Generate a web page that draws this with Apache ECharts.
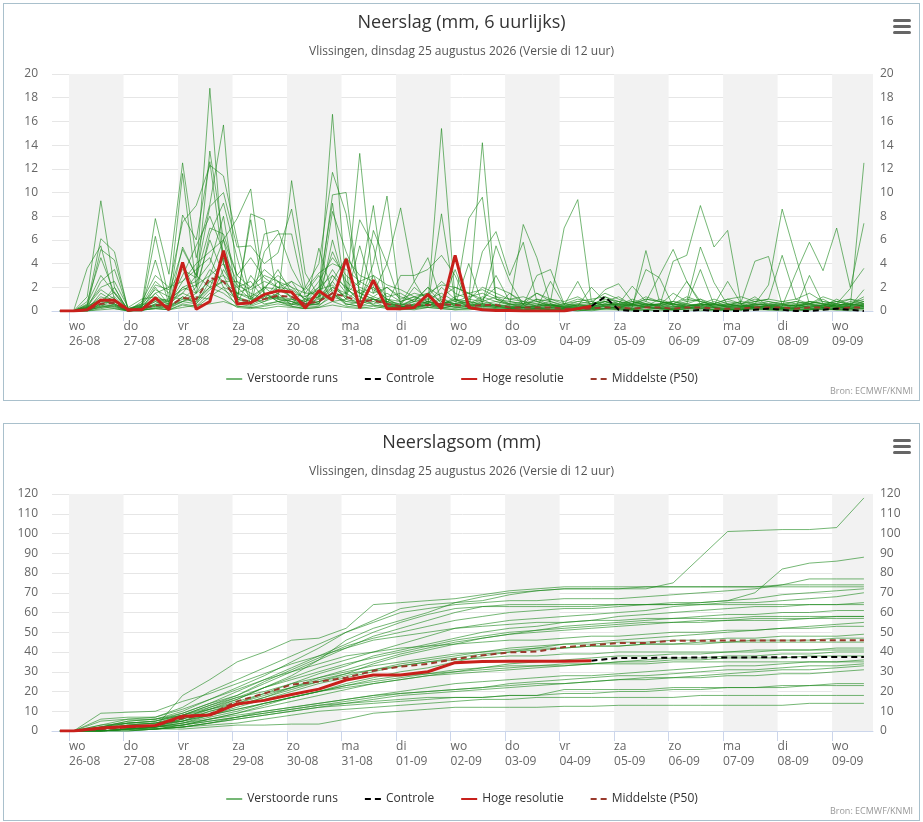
<!DOCTYPE html>
<html>
<head>
<meta charset="utf-8">
<title>Neerslag Vlissingen</title>
<script src="https://cdn.jsdelivr.net/npm/echarts@6/dist/echarts.min.js"></script>
<style>
  body { margin: 0; background: #fff; }
  .kader { position: absolute; left: 3px; width: 915px; height: 396px; border: 1px solid #a9c0cc; background: #fff; }
  #neerslag { top: 3px; }
  #som { top: 423px; }
</style>
</head>
<body>
<div id="neerslag" class="kader"></div>
<div id="som" class="kader"></div>
<script>
// neerslag per 6 uur, eerste waarde 25-08 20:00, daarna elke 6 uur t/m 09-09 14:00
var runs6 = [
  [0, 0,1.2,9.3,2.0, 0,0.2,1.5,0.4, 5.4,3.0,18.8,4.0, 1.2,0.6,2.0,1.1, 0.8,0.3,1.2,16.6, 2.0,0.8,1.0,0.5, 0.3,0.5,0.8,0.4, 1.0,0.3,0.2,0.1, 0.2,0.5,0.3,0.1, 0,0.2,0.3,0.4, 0.2,0.1,0.3,0.2, 0.1,0.2,0.5,0.3, 0.2,0.1,0.4,0.3, 0.2,0.5,0.3,0.1, 0.2,0.4,1.8],
  [0, 0,0.5,6.1,5.0, 0.1,0.5,7.8,3.1, 12.5,4.5,9.0,15.7, 2.0,1.0,0.8,1.5, 0.5,1.0,0.6,3.0, 1.5,13.3,2.0,0.6, 0.4,1.0,0.6,0.3, 0.2,0.5,1.0,0.4, 0.3,0.1,0.2,0.5, 0.2,0.1,0.3,0.6, 0.4,0.3,5.1,0.8, 0.5,0.6,1.0,0.3, 0.1,0.2,0.3,0.5, 0.3,0.2,0.8,0.6, 0.4,0.3,0.5],
  [0, 0,3.6,5.5,1.0, 0,0.3,6.3,1.0, 11.6,2.0,13.5,6.0, 7.8,10.3,1.5,0.8, 0.4,0.2,5.3,1.5, 0.6,0.4,0.8,0.3, 0.2,0.2,0.5,0.2, 0.5,0.8,14.2,1.0, 0.6,0.3,0.2,0.1, 0.1,0,0.2,0.4, 0.2,0.1,0.1,0.3, 0.6,0.3,0.2,0.1, 0.1,0.1,0.3,0.2, 0.1,0.1,0.2,0.3, 0.5,0.3,12.5],
  [0, 0,0.3,5.2,4.3, 0.2,0.4,4.3,0.6, 8.1,6.0,12.6,4.0, 0.8,8.2,7.7,1.0, 11.0,3.2,1.2,9.8, 10.0,1.2,0.5,0.4, 0.3,0.8,0.6,15.4, 1.0,0.5,0.6,0.4, 0.3,0.2,0.1,0.2, 0.1,0.1,0,0.2, 0.3,0.2,0.4,0.2, 0.1,0.2,0.3,0.1, 0.1,0.1,0.2,0.1, 0.2,0.1,0.1,0.2, 0.1,0.2,0.4],
  [0, 0,0.8,4.5,1.5, 0,0.8,3.0,2.0, 7.5,8.9,12.3,11.4, 6.0,1.0,6.5,6.8, 3.6,1.5,3.0,0.8, 1.0,0.6,6.8,4.0, 8.7,2.5,0.6,0.4, 3.5,0.5,0.4,0.3, 0.2,0.3,0.5,0.8, 7.0,9.4,0.8,0.5, 0.3,0.5,0.8,0.4, 4.2,4.7,8.9,5.4, 6.8,0.5,0.3,0.4, 0.3,0.2,0.5,0.3, 0.6,0.4,0.3],
  [0, 0,0.2,2.5,3.5, 0.2,0.6,2.5,1.5, 5.2,3.0,8.8,10.0, 5.4,5.5,4.0,4.9, 8.6,2.0,4.0,11.7, 8.2,1.5,1.0,0.8, 0.6,0.4,0.5,8.2, 0.8,7.8,9.6,1.0, 0.5,7.3,4.5,0.6, 0.3,0.5,0.4,1.2, 0.8,0.4,0.6,0.3, 0.2,0.4,0.6,0.3, 0.4,0.6,0.3,0.2, 0.3,0.2,0.4,0.5, 0.3,0.2,0.6],
  [0, 0,0.1,1.5,0.8, 0,0.1,2.0,0.5, 4.0,1.5,6.5,9.1, 4.5,0.5,5.0,6.5, 6.5,1.2,2.0,9.1, 1.2,7.7,5.5,0.6, 3.0,3.0,3.5,4.7, 3.0,0.4,5.0,6.7, 3.0,5.8,0.8,0.4, 0.3,0.2,0.6,1.8, 2.3,0.8,0.5,0.6, 0.8,0.6,0.4,0.8, 0.4,0.3,0.5,0.8, 0.6,0.4,0.3,0.5, 0.8,0.5,0.8],
  [0, 0,0.4,1.0,0.6, 0.1,0.3,1.0,0.8, 2.0,2.5,4.0,8.0, 1.2,0.8,1.8,3.5, 1.5,0.6,1.0,8.4, 5.0,2.2,8.9,0.5, 0.2,0.6,0.4,1.0, 0.6,0.3,0.6,5.5, 2.5,0.5,3.0,3.5, 0.6,0.4,2.0,0.8, 0.6,2.1,0.8,3.0, 5.2,2.5,0.8,0.4, 0.5,0.4,0.6,2.2, 8.6,4.6,0.6,0.3, 0.4,0.6,1.2],
  [0, 0,0,0.6,2.0, 0,0.2,0.8,0.3, 1.2,0.8,3.0,6.0, 1.0,7.7,1.2,1.0, 0.8,0.5,0.6,6.0, 2.0,0.8,4.0,9.7, 0.5,0.8,2.0,0.6, 0.5,4.0,0.6,0.4, 0.3,0.4,0.3,2.5, 0.5,2.5,0.3,0.5, 0.8,0.5,3.5,2.8, 0.4,0.6,3.5,0.5, 2.5,0.6,1.2,0.4, 0.4,3.2,5.8,3.4, 7.0,2.0,3.6],
  [0, 0,0.1,0.3,0.5, 0,0.1,0.4,0.2, 0.8,0.6,2.5,3.0, 0.6,0.4,0.8,1.2, 1.0,0.4,0.6,2.5, 1.0,5.5,1.5,4.0, 0.6,2.5,4.5,0.8, 0.6,0.4,0.8,3.0, 0.8,0.6,0.4,0.6, 0.4,0.3,0.5,0.8, 0.4,0.8,0.6,0.5, 1.5,0.8,5.4,2.4, 0.5,0.8,4.2,4.6, 0.5,0.4,0.6,0.8, 0.6,1.9,7.4],
  [0, 0,0,0.2,0.4, 0,0,0.3,0.1, 0.5,0.3,1.2,2.0, 0.4,0.3,0.5,0.8, 0.6,0.3,0.4,1.5, 0.5,0.8,0.6,1.0, 0.4,0.3,0.5,0.6, 0.3,0.2,0.4,0.5, 0.4,0.3,0.2,0.3, 0.2,0.3,0.2,0.4, 0.3,0.2,0.4,0.3, 0.2,0.3,0.4,0.2, 0.3,0.2,0.4,0.3, 0.2,0.3,0.2,0.4, 0.3,0.2,0.4],
  [0, 0,0.2,0.8,1.2, 0,0.2,0.5,0.6, 1.5,1.0,2.0,4.5, 1.0,0.6,1.2,2.0, 1.2,0.8,1.5,3.5, 1.8,1.2,0.8,1.5, 0.8,1.2,0.6,2.0, 1.0,0.6,1.2,0.8, 0.5,0.8,0.6,0.4, 0.6,0.8,1.0,1.2, 0.6,0.5,1.0,0.8, 0.6,1.2,0.8,0.5, 0.8,0.6,1.0,0.8, 0.5,0.8,0.6,1.0, 0.4,0.8,0.6],
  [0, 0,0.1,0.5,0.3, 0,0.1,0.2,0.1, 0.6,0.4,1.5,1.0, 0.3,0.2,0.4,0.6, 0.4,0.2,0.3,0.8, 0.4,0.3,0.2,0.4, 0.2,0.1,0.3,0.2, 0.1,0.2,0.1,0.2, 0.1,0.1,0.2,0.1, 0,0.1,0.1,0.2, 0.1,0,0.1,0.1, 0.1,0.2,0.1,0, 0.1,0.1,0.2,0.1, 0.1,0,0.1,0.2, 0.1,0.1,0.2],
  [0, 0,0.5,2.0,2.5, 0.3,1.0,1.2,0.8, 3.0,5.5,8.0,5.0, 2.5,1.8,2.5,2.0, 1.8,1.0,2.5,4.5, 3.0,2.0,1.5,2.0, 1.0,1.5,1.2,2.5, 1.5,1.0,2.0,1.5, 1.0,1.2,0.8,1.0, 0.6,1.0,0.8,1.5, 1.0,0.6,1.2,0.8, 0.5,0.8,1.0,0.6, 1.0,1.2,0.8,0.6, 0.8,1.0,1.5,0.8, 0.6,1.0,0.8],
  [0, 0,0,0.8,0.6, 0,0.4,1.5,2.0, 2.5,4.0,5.0,6.0, 3.0,2.0,3.0,2.5, 2.0,1.5,1.5,5.0, 2.5,1.5,2.0,1.0, 0.5,2.0,1.0,0.5, 1.2,1.5,0.8,1.2, 0.6,0.4,1.0,0.5, 0.4,0.6,0.3,0.8, 1.2,0.5,0.4,1.0, 0.6,0.4,0.6,1.0, 0.6,0.4,0.3,0.5, 0.6,0.8,0.5,0.4, 1.0,0.5,0.6],
  [0, 0,0.3,1.2,0.8, 0,0.3,0.8,0.4, 2.0,1.5,3.5,2.5, 1.5,1.0,2.0,1.8, 1.2,0.6,0.8,2.0, 1.2,0.6,1.0,0.8, 0.3,0.6,0.4,1.2, 0.4,0.6,0.5,0.4, 0.2,0.3,0.4,0.6, 0.3,0.4,0.2,0.5, 0.6,0.3,0.5,0.4, 0.3,0.5,0.4,0.3, 0.4,0.3,0.6,0.4, 0.3,0.5,0.4,0.3, 0.2,0.4,0.5],
  [0, 0,0.2,0.4,1.0, 0.1,0.6,1.8,1.2, 1.0,2.0,6.0,3.0, 2.0,2.5,1.0,1.5, 2.5,0.8,1.2,2.5, 4.5,3.0,2.5,1.2, 1.5,0.8,2.0,1.2, 2.0,1.5,1.0,2.0, 1.5,0.6,1.5,0.8, 0.4,0.8,0.6,0.8, 0.5,1.0,0.6,0.4, 0.8,2.5,0.6,0.4, 0.6,0.4,0.8,1.0, 4.7,1.0,0.6,1.2, 0.8,1.0,0.6],
  [0, 0,0,0.4,0.2, 0,0,0.6,0.3, 1.0,0.8,2.0,1.5, 0.6,3.0,1.5,0.8, 0.5,2.0,1.0,1.2, 0.8,1.0,3.0,0.6, 0.4,0.2,0.8,0.6, 0.8,0.5,0.4,0.3, 1.5,0.8,0.4,0.3, 0.2,0.4,0.3,0.2, 0.3,0.6,0.3,0.2, 0.4,0.3,0.2,0.6, 0.3,0.2,0.5,0.3, 0.2,0.3,3.0,0.6, 0.4,0.3,0.2],
  [0, 0,0.1,0.3,0.6, 0,0.2,0.6,0.4, 1.2,0.6,1.8,2.5, 0.8,0.5,1.0,1.2, 0.8,0.4,0.8,1.8, 0.6,0.4,0.5,0.3, 0.2,0.4,0.3,0.5, 0.3,0.2,0.3,0.2, 0.1,0.2,0.3,0.2, 0.1,0.2,0.1,0.3, 0.2,0.1,0.3,0.2, 0.1,0.2,0.3,0.1, 0.2,0.1,0.3,0.2, 0.1,0.2,0.1,0.3, 0.2,0.1,0.3],
  [0, 0,0.3,0.6,0.4, 0,0.1,0.2,0.5, 0.8,1.2,1.0,3.5, 1.5,1.2,0.6,0.8, 1.0,0.6,0.5,1.2, 1.5,0.8,1.2,0.8, 0.4,0.5,0.8,0.4, 0.6,0.8,0.5,0.6, 0.4,0.3,0.4,0.5, 0.3,0.2,0.4,0.6, 0.4,0.5,0.3,0.6, 0.4,0.3,0.5,0.6, 0.3,0.4,0.6,0.5, 0.4,0.6,0.3,0.5, 0.6,0.4,0.8],
  [0, 0,0.4,1.8,1.0, 0,0.3,1.0,0.6, 2.5,3.5,4.5,2.0, 1.5,2.0,3.5,2.5, 1.0,0.8,2.0,3.0, 2.0,1.5,1.0,0.6, 0.5,1.0,1.5,0.8, 0.6,1.0,0.8,0.5, 0.4,0.6,0.8,0.5, 0.3,0.5,0.4,0.6, 0.5,0.4,0.6,0.5, 0.3,0.4,0.5,0.6, 0.4,0.5,0.3,0.4, 0.5,0.4,0.6,0.5, 0.3,0.5,0.4],
  [0, 0,0.2,0.9,1.6, 0.2,0.5,0.9,1.0, 1.8,2.2,3.0,4.0, 2.2,1.5,1.0,2.5, 1.5,1.2,1.8,2.2, 1.0,1.8,1.2,2.0, 1.2,0.8,1.0,1.5, 0.8,1.2,1.5,1.0, 0.8,0.6,1.0,0.8, 0.5,0.6,0.8,0.4, 0.6,0.8,0.5,0.6, 0.8,0.5,0.6,0.4, 0.5,0.8,0.6,0.5, 0.6,0.4,0.8,0.6, 0.5,0.6,0.4],
  [0, 0,0,0.1,0.2, 0,0.1,0.2,0.1, 0.3,0.5,0.6,0.8, 0.4,0.3,0.2,0.4, 0.3,0.2,0.3,0.5, 0.3,0.2,0.4,0.2, 0.1,0.2,0.3,0.2, 0.1,0.1,0.2,0.1, 0.1,0.1,0.1,0.1, 0.1,0,0.1,0.1, 0.1,0.1,0.1,0, 0.1,0.1,0,0.1, 0.1,0.1,0.1,0.1, 0,0.1,0.1,0.1, 0.1,0,0.1],
  [0, 0,0.6,3.0,1.5, 0.1,0.4,2.2,1.8, 3.5,2.8,7.0,6.5, 3.0,4.5,2.8,2.0, 2.5,1.8,3.2,4.0, 3.5,2.5,3.0,2.2, 1.8,1.2,1.5,2.2, 2.0,1.5,1.8,1.2, 1.0,0.8,1.5,1.0, 0.8,1.2,0.6,1.0, 0.8,0.6,1.0,0.8, 0.6,1.0,0.8,0.6, 1.0,0.6,0.8,1.0, 0.8,0.6,0.8,0.6, 0.8,0.6,1.0],
  [0, 0,0.1,0.6,1.0, 0,0.2,0.4,0.3, 0.8,1.5,2.5,1.8, 1.0,0.8,1.5,1.0, 0.6,0.5,0.8,1.5, 0.8,0.6,1.0,0.6, 0.3,0.4,0.6,0.3, 0.4,0.3,0.5,0.3, 0.2,0.3,0.2,0.3, 0.2,0.3,0.2,0.2, 0.3,0.2,0.3,0.2, 0.2,0.3,0.2,0.3, 0.2,0.3,0.2,0.3, 0.2,0.3,0.2,0.2, 0.3,0.2,0.2],
  [0, 0,0.3,1.0,0.5, 0,0.2,0.5,0.9, 1.5,3.0,2.0,2.5, 2.5,1.2,2.0,3.0, 2.0,1.0,1.2,2.0, 1.5,2.5,1.8,1.0, 0.8,1.2,0.8,0.6, 1.0,0.8,0.6,0.8, 0.6,0.5,0.6,0.4, 0.4,0.5,0.6,0.8, 0.5,0.6,0.4,0.5, 0.6,0.4,0.6,0.5, 0.6,0.4,0.5,0.6, 0.4,0.5,0.6,0.4, 0.5,0.6,0.5]
];
var mediaan6 = [0, 0,0.1,0.6,0.7, 0,0.2,0.5,0.4, 1.1,1.0,2.8,2.5, 1.0,0.8,1.0,1.3, 1.2,0.6,0.8,1.5, 1.2,0.8,0.9,0.6, 0.4,0.5,0.5,0.6, 0.5,0.4,0.5,0.5, 0.3,0.3,0.3,0.3, 0.2,0.2,0.2,0.3, 0.3,0.2,0.3,0.3, 0.2,0.3,0.3,0.2, 0.2,0.2,0.3,0.3, 0.3,0.2,0.3,0.3, 0.2,0.3,0.3];
// hoge resolutie loopt tot 04-09 14:00
var hres6 = [0, 0,0.1,0.9,0.9, 0.1,0.1,1.1,0.1, 4.1,0.15,0.8,5.1, 0.6,0.7,1.4,1.7, 1.6,0.25,1.7,0.9, 4.4,0.25,2.6,0.2, 0.2,0.3,1.4,0.2, 4.7,0.3,0.1,0.05, 0.05,0,0,0, 0,0.2,0.4];
// controle vanaf 04-09 14:00 (index 39)
var controle6 = [0.4,1.2,0.1,0,0, 0,0,0,0.1, 0,0,0,0.1, 0.2,0.1,0,0, 0.1,0.2,0.1,0];

// neerslagsom, eerste waarde 25-08 20:00, daarna 02:00 en 14:00 van elke dag t/m 09-09 14:00
var runsSom = [
  [0, 0,2, 5,6, 10,16, 22,28, 35,42, 50,56, 62,64, 65,66, 69,71, 72,72, 72,72, 75,88, 101,101.5, 102,102, 103,118],
  [0, 0,1, 4,5, 9,14, 18,24, 30,36, 42,48, 52,56, 60,63, 64,64, 64,64, 64,64, 64,65, 66,70, 82,85, 86,88],
  [0, 0,3, 6,7, 12,20, 26,32, 38,44, 50,55, 60,62, 64,65, 66,66, 67,67, 67,68, 69,70, 71,72, 74,77, 77,77],
  [0, 0,0, 1,2, 18,26, 35,40, 46,47, 52,64, 65,66, 67,69, 71,72, 73,73, 73,73, 73,73, 73,73, 74,74, 74,74],
  [0, 0,1, 3,4, 8,12, 16,22, 28,36, 46,52, 56,60, 65,68, 70,71, 72,72, 72,73, 73,73, 73,73, 73,73, 73,73],
  [0, 0,2, 4,5, 8,13, 18,25, 31,37, 43,47, 50,53, 56,58, 60,61, 62,62, 63,64, 65,65, 66,67, 69,70, 71,72],
  [0, 0,1, 2,3, 6,11, 16,22, 27,32, 36,40, 44,48, 52,54, 56,57, 58,59, 60,61, 63,64, 65,65, 66,67, 68,70],
  [0, 0,0, 1,2, 5,10, 14,19, 24,29, 33,38, 41,44, 47,50, 52,53, 55,56, 58,59, 60,61, 62,63, 63,64, 64,65],
  [0, 0,2, 5,6, 9,14, 20,26, 32,38, 44,50, 55,59, 62,63, 63,63, 63,63, 64,64, 64,64, 64,64, 64,64, 64,64],
  [0, 0,1, 3,4, 6,10, 13,17, 21,25, 29,34, 38,41, 44,47, 49,51, 53,54, 55,56, 57,58, 59,59, 60,60, 61,61],
  [0, 0,9, 9.5,10, 15,19, 24,29, 34,38, 42,46, 48,50, 52,53, 54,55, 55,56, 56,57, 57,57, 57,58, 58,58, 58,58],
  [0, 0,0, 1,2, 6,12, 17,22, 26,30, 34,37, 40,43, 46,48, 50,51, 52,53, 54,55, 55,56, 56,57, 57,57, 58,58],
  [0, 0,1, 2,3, 5,9, 13,17, 22,27, 31,35, 39,42, 45,47, 49,50, 51,52, 53,54, 55,55, 56,56, 56,57, 57,57],
  [0, 0,0, 0,1, 3,6, 9,13, 17,20, 24,27, 30,32, 35,38, 40,42, 44,45, 46,47, 48,49, 50,51, 52,53, 54,55],
  [0, 0,6, 7,7, 11,16, 21,26, 30,34, 38,40, 42,43, 44,45, 46,46, 47,48, 48,49, 50,50, 51,51, 52,52, 53,53],
  [0, 0,1, 3,4, 7,11, 15,19, 22,25, 28,31, 34,36, 38,40, 42,43, 44,44, 45,45, 46,46, 47,47, 48,48, 48,49],
  [0, 0,0, 1,2, 4,8, 12,16, 20,24, 27,30, 33,35, 37,39, 40,41, 42,43, 43,44, 44,45, 45,46, 46,46, 47,47],
  [0, 0,2, 4,5, 8,13, 17,20, 24,27, 30,33, 35,37, 39,40, 41,42, 42,43, 43,44, 44,44, 45,45, 45,45, 45,45],
  [0, 0,0, 1,1, 3,6, 9,12, 15,18, 21,24, 26,28, 30,32, 34,35, 36,37, 38,38, 39,39, 40,40, 41,41, 42,42],
  [0, 0,5, 6,6, 8,11, 14,18, 22,26, 29,31, 33,35, 36,37, 38,38, 39,39, 40,40, 40,40, 40,41, 41,41, 41,41],
  [0, 0,0, 1,2, 4,7, 10,14, 17,20, 22,24, 26,28, 29,30, 31,32, 33,34, 35,36, 37,37, 38,38, 39,39, 40,40],
  [0, 0,1, 2,3, 5,8, 11,14, 17,20, 23,26, 28,29, 30,31, 32,33, 33,34, 35,35, 36,36, 37,37, 37,38, 38,38],
  [0, 0,0, 1,1, 2,4, 7,10, 12,14, 16,18, 20,22, 24,25, 26,27, 28,28, 29,30, 31,32, 33,33, 34,35, 35,36],
  [0, 0,3, 4,4, 5,8, 11,14, 17,20, 23,25, 27,29, 31,32, 33,33, 34,34, 34,34, 35,35, 35,35, 35,35, 35,35],
  [0, 0,0, 1,2, 3,5, 7,9, 11,13, 15,17, 19,20, 21,22, 24,25, 26,27, 28,28, 29,30, 31,31, 32,33, 33,34],
  [0, 0,0, 0,1, 2,4, 6,8, 10,12, 14,16, 18,19, 20,21, 22,23, 24,25, 26,26, 27,28, 29,30, 31,31, 32,33],
  [0, 0,1, 2,2, 4,6, 8,10, 12,14, 16,18, 19,20, 21,22, 23,24, 24,25, 26,27, 27,27, 28,28, 29,29, 30,31],
  [0, 0,0, 1,1, 2,4, 6,8, 10,12, 13,14, 15,16, 17,17, 18,18, 19,19, 20,20, 21,21, 22,22, 23,23, 24,24],
  [0, 0,1, 2,2, 3,5, 7,9, 11,13, 14,15, 16,17, 17,17, 18,18, 21,21, 21,21, 22,22, 22,22, 22,23, 23,23],
  [0, 0,0, 1,1, 2,3, 4,6, 8,10, 11,12, 13,14, 15,16, 16,17, 17,17, 17,17, 17,18, 18,18, 18,18, 18,18],
  [0, 0,0, 0,1, 1,2, 3,3, 3.5,3.5, 6,9, 10,11, 12,12, 12,12, 12.5,12.5, 13,13, 13,13, 13,13, 13,14, 14,14]
];
var mediaanSom = [0, 0,1.0, 1.8,2.5, 6.5,8.5, 15.0,19.0, 23.5,25.0, 27.0,30.5, 32.6,34.0, 36.5,38.3, 39.8,40.2, 42.5,43.5, 44.5,44.6, 45.7,45.7, 45.8,45.8, 45.8,45.9, 46.0,46.0];
var hresSom = [0, 0,1.5, 2.3,2.8, 7.5,8.1, 13.7,15.5, 18.5,21.2, 25.8,28.4, 28.4,30.0, 34.6,35.2, 35.3,35.3, 35.3,35.6];
// controle vanaf 04-09 14:00 (index 20)
var controleSom = [35.6, 37.0,37.0, 37.1,37.2, 37.2,37.3, 37.3,37.4, 37.5,37.5];

var dagNamen = ['zo', 'ma', 'di', 'wo', 'do', 'vr', 'za'];
var grijzeDagen = ['2026-08-26', '2026-08-28', '2026-08-30', '2026-09-01', '2026-09-03', '2026-09-05', '2026-09-07', '2026-09-09'];
var ondertitel = 'Vlissingen, dinsdag 25 augustus 2026 (Versie di 12 uur)';

var UUR = 3600000;
var begin = new Date(2026, 7, 25, 20, 0).getTime();
var xMin = new Date(2026, 7, 25, 16, 30).getTime();
var xMax = new Date(2026, 8, 9, 18, 0).getTime();
var groen = 'rgba(25,135,25,0.6)';
var lettertype = '"Open Sans", "DejaVu Sans", sans-serif';

function datum(s) {
  var p = s.split('-');
  return new Date(+p[0], p[1] - 1, +p[2]).getTime();
}
function twee(n) { return (n < 10 ? '0' : '') + n; }

// tijd bij index: 6-uurlijks of 12-uurlijks (som)
function tijd6(i) { return begin + i * 6 * UUR; }
function tijdSom(j) { return j === 0 ? begin : begin + 6 * UUR + (j - 1) * 12 * UUR; }

function paren(waarden, tijdFn, vanaf) {
  return waarden.map(function (v, i) { return [tijdFn(i + vanaf), v]; });
}

function maakSeries(runs, mediaan, hres, controle, tijdFn, controleVanaf) {
  var series = [];
  runs.forEach(function (r, k) {
    var s = {
      name: 'Verstoorde runs', type: 'line', data: paren(r, tijdFn, 0),
      symbol: 'none', z: 2, silent: true,
      lineStyle: { width: 1, color: groen }, itemStyle: { color: groen }
    };
    if (k === 0) {
      // grijze banden voor de om-en-om dagen
      s.markArea = {
        silent: true, itemStyle: { color: '#f2f2f2' },
        data: grijzeDagen.map(function (d) {
          return [{ xAxis: datum(d) }, { xAxis: Math.min(datum(d) + 24 * UUR, xMax) }];
        })
      };
    }
    series.push(s);
  });
  series.push({
    name: 'Middelste (P50)', type: 'line', data: paren(mediaan, tijdFn, 0), symbol: 'none', z: 3,
    lineStyle: { width: 2, color: '#9a3a2c', type: [6, 4] }, itemStyle: { color: '#9a3a2c' }
  });
  series.push({
    name: 'Controle', type: 'line', data: paren(controle, tijdFn, controleVanaf), symbol: 'none', z: 4,
    lineStyle: { width: 2, color: '#000', type: [6, 4] }, itemStyle: { color: '#000' }
  });
  series.push({
    name: 'Hoge resolutie', type: 'line', data: paren(hres, tijdFn, 0), symbol: 'none', z: 5,
    lineStyle: { width: 3, color: '#c8201b' }, itemStyle: { color: '#c8201b' }
  });
  return series;
}

function opties(titel, yMax, yStap, series) {
  var yas = {
    type: 'value', min: 0, max: yMax, interval: yStap,
    axisLine: { show: false }, axisTick: { show: false },
    axisLabel: { color: '#666', fontSize: 12, fontFamily: lettertype }
  };
  return {
    animation: false,
    textStyle: { fontFamily: lettertype },
    title: [
      { text: titel, left: 'center', top: 5, textStyle: { fontSize: 18, fontWeight: 'normal', color: '#333', fontFamily: lettertype } },
      { text: ondertitel, left: 'center', top: 37, textStyle: { fontSize: 12, fontWeight: 'normal', color: '#555', fontFamily: lettertype } }
    ],
    legend: {
      top: 364, left: 'center', itemGap: 26, itemWidth: 16, itemHeight: 10,
      itemStyle: { opacity: 0 },
      textStyle: { fontSize: 12, color: '#333', fontFamily: lettertype },
      data: ['Verstoorde runs', 'Controle', 'Hoge resolutie', 'Middelste (P50)']
    },
    grid: { left: 48, right: 46, top: 70, bottom: 89 },
    xAxis: {
      type: 'time', min: xMin, max: xMax,
      minInterval: 24 * UUR, maxInterval: 24 * UUR,
      axisLine: { lineStyle: { color: '#ccd6eb' } },
      axisTick: { length: 10, lineStyle: { color: '#ccd6eb' } },
      splitLine: { show: false },
      axisLabel: {
        align: 'left', margin: 8, color: '#666', fontSize: 12, lineHeight: 15,
        fontFamily: lettertype, showMinLabel: false, showMaxLabel: false,
        formatter: function (v) {
          var d = new Date(v);
          return dagNamen[d.getDay()] + '\n' + twee(d.getDate()) + '-' + twee(d.getMonth() + 1);
        }
      }
    },
    yAxis: [
      Object.assign({}, yas, { position: 'left', axisLabel: Object.assign({}, yas.axisLabel, { margin: 14 }),
        splitLine: { lineStyle: { color: '#e6e6e6' } } }),
      Object.assign({}, yas, { position: 'right', axisLabel: Object.assign({}, yas.axisLabel, { margin: 7 }),
        splitLine: { show: false } })
    ],
    graphic: [
      {
        type: 'group', right: 8, top: 15,
        children: [
          { type: 'rect', shape: { x: 0, y: 0, width: 18, height: 3, r: 1.5 }, style: { fill: '#666' } },
          { type: 'rect', shape: { x: 0, y: 6, width: 18, height: 3, r: 1.5 }, style: { fill: '#666' } },
          { type: 'rect', shape: { x: 0, y: 12, width: 18, height: 3, r: 1.5 }, style: { fill: '#666' } }
        ]
      },
      { type: 'text', right: 6, bottom: 4, style: { text: 'Bron: ECMWF/KNMI', fill: '#999', font: '9px ' + lettertype } }
    ],
    series: series
  };
}

var grafiek1 = echarts.init(document.getElementById('neerslag'));
grafiek1.setOption(opties('Neerslag (mm, 6 uurlijks)', 20, 2,
  maakSeries(runs6, mediaan6, hres6, controle6, tijd6, 39)));

var grafiek2 = echarts.init(document.getElementById('som'));
grafiek2.setOption(opties('Neerslagsom (mm)', 120, 10,
  maakSeries(runsSom, mediaanSom, hresSom, controleSom, tijdSom, 20)));
</script>
</body>
</html>
